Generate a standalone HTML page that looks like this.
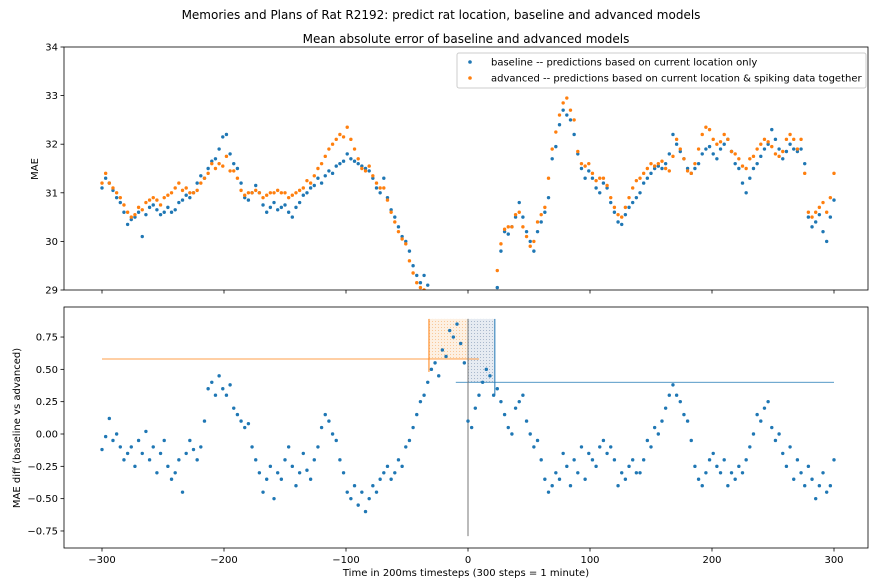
<!DOCTYPE html>
<html><head><meta charset="utf-8"><style>
body{margin:0;background:#fff;}
svg{display:block;font-family:"DejaVu Sans","Liberation Sans",sans-serif;}
</style></head><body>
<svg id="chart" width="887" height="584" viewBox="0 0 887 584" xmlns="http://www.w3.org/2000/svg">
<rect width="887" height="584" fill="#fff"/>
<text x="441" y="19" font-size="12" text-anchor="middle">Memories and Plans of Rat R2192: predict rat location, baseline and advanced models</text>
<text x="466" y="43" font-size="12" text-anchor="middle">Mean absolute error of baseline and advanced models</text>
<g id="topAxes"></g>
<g id="botAxes"></g>
<text transform="translate(38,169) rotate(-90)" font-size="10" text-anchor="middle">MAE</text>
<text transform="translate(20,428) rotate(-90)" font-size="10" text-anchor="middle">MAE diff (baseline vs advanced)</text>
<text x="466" y="576" font-size="10" text-anchor="middle">Time in 200ms timesteps (300 steps = 1 minute)</text>
<g>
<rect x="457" y="53" width="409" height="35" fill="#fff" stroke="#ccc" rx="2"/>
<circle cx="470" cy="62" r="1.8" fill="#1f77b4"/>
<text x="491" y="65.5" font-size="10">baseline -- predictions based on current location only</text>
<circle cx="470" cy="78" r="1.8" fill="#ff7f0e"/>
<text x="491" y="81.5" font-size="10">advanced -- predictions based on current location &amp; spiking data together</text>
</g>
</svg>
<script>
const baseline=[31.1,31.3,31.2,31.05,30.9,30.8,30.6,30.35,30.45,30.5,
30.6,30.1,30.55,30.7,30.75,30.65,30.55,30.6,30.7,30.6,
30.65,30.8,30.85,30.95,30.9,31.0,31.2,31.35,31.3,31.5,
31.65,31.7,31.9,32.15,32.2,31.8,31.6,31.5,31.2,30.9,
30.85,31.0,31.15,31.0,30.75,30.6,30.7,30.8,30.65,30.7,
30.75,30.6,30.5,30.7,30.8,30.95,31.0,31.1,31.15,31.3,
31.2,31.35,31.45,31.4,31.55,31.6,31.65,31.8,31.7,31.65,
31.6,31.55,31.5,31.45,31.3,31.1,31.0,31.3,30.9,30.65,
30.5,30.3,30.1,30.0,29.8,29.5,29.3,29.15,29.3,29.1,
null,null,null,null,null,null,null,null,null,null,
null,null,null,null,null,null,null,null,29.05,29.8,
30.2,30.15,30.3,30.5,30.8,30.5,30.2,30.0,29.8,30.2,
30.4,30.6,30.9,31.7,31.95,32.4,32.7,32.6,32.5,32.2,
31.8,31.5,31.3,31.45,31.3,31.1,31.0,31.2,31.1,30.8,
30.6,30.4,30.35,30.55,30.7,30.8,30.9,31.0,31.2,31.3,
31.4,31.5,31.55,31.5,31.6,31.8,32.2,32.0,31.85,31.7,
31.5,31.4,31.5,31.6,31.8,31.9,31.95,31.8,31.7,31.9,
32.0,32.1,31.85,31.6,31.5,31.2,31.0,31.3,31.5,31.6,
31.75,31.9,32.0,32.3,32.1,31.9,31.7,31.85,32.0,31.9,
31.85,31.9,31.6,30.5,30.3,30.4,30.55,30.2,30.0,30.5,
30.85];
const advanced=[31.2,31.4,31.2,31.1,31.0,30.9,30.75,30.6,30.5,30.55,
30.7,30.65,30.8,30.85,30.9,30.85,30.75,30.9,30.95,31.0,
31.1,31.2,31.05,31.1,31.0,31.0,31.05,31.2,31.3,31.4,
31.6,31.5,31.6,31.55,31.75,31.45,31.45,31.3,31.05,30.95,
31.0,31.0,31.05,31.0,30.9,30.95,31.0,31.0,31.05,31.0,
31.0,30.9,30.95,31.0,31.05,31.1,31.25,31.2,31.35,31.5,
31.6,31.75,31.9,32.0,32.1,32.2,32.15,32.35,32.1,31.9,
31.7,31.5,31.45,31.55,31.35,31.2,31.1,31.1,30.85,30.6,
30.4,30.2,30.05,29.95,29.6,29.35,29.15,29.05,29.0,null,
null,null,null,null,null,null,null,null,null,null,
null,null,null,null,null,null,null,null,29.4,29.95,
30.25,30.3,30.3,30.55,30.6,30.3,30.1,29.9,30.0,30.4,
30.55,30.7,31.3,31.9,32.25,32.6,32.85,32.95,32.7,32.5,
31.85,31.6,31.55,31.6,31.4,31.25,31.3,31.3,31.15,30.9,
30.7,30.55,30.5,30.7,30.9,31.1,31.25,31.3,31.4,31.5,
31.6,31.55,31.6,31.65,31.5,31.45,31.75,32.1,31.9,31.7,
31.45,31.4,31.6,31.9,32.2,32.35,32.3,32.1,32.0,32.05,
32.2,32.1,31.85,31.8,31.7,31.55,31.5,31.7,31.75,31.9,
32.0,32.1,32.05,31.95,31.8,31.75,31.85,32.1,32.2,32.1,
31.9,32.1,31.4,30.6,30.5,30.6,30.7,30.8,30.6,30.9,
31.4];
const diffValues=[-0.12,-0.02,0.12,-0.05,0.0,-0.1,-0.2,-0.15,-0.1,-0.25,
-0.05,-0.15,0.02,-0.2,-0.1,-0.3,-0.15,-0.05,-0.25,-0.35,
-0.3,-0.2,-0.45,-0.15,-0.05,-0.12,-0.2,-0.1,0.1,0.35,
0.4,0.3,0.45,0.35,0.3,0.38,0.2,0.15,0.1,0.05,
0.08,-0.1,-0.2,-0.3,-0.45,-0.35,-0.25,-0.5,-0.3,-0.35,
-0.2,-0.1,-0.25,-0.4,-0.3,-0.15,-0.28,-0.35,-0.2,-0.1,
0.05,0.15,0.1,0.0,-0.05,-0.2,-0.3,-0.45,-0.5,-0.4,
-0.55,-0.45,-0.6,-0.5,-0.4,-0.45,-0.35,-0.3,-0.25,-0.35,
-0.3,-0.2,-0.25,-0.1,-0.05,0.05,0.15,0.25,0.3,0.4,
0.5,0.55,0.45,0.65,0.6,0.8,0.75,0.85,0.7,0.55,
0.1,0.05,0.2,0.3,0.4,0.5,0.45,0.3,0.35,0.25,
0.15,0.05,0.0,0.2,0.25,0.3,0.1,0.0,-0.1,-0.05,
-0.2,-0.35,-0.45,-0.4,-0.3,-0.35,-0.15,-0.25,-0.4,-0.2,
-0.3,-0.1,-0.35,-0.15,-0.2,-0.25,-0.1,-0.05,-0.15,-0.1,
-0.2,-0.4,-0.3,-0.35,-0.25,-0.2,-0.3,-0.3,-0.2,-0.05,
-0.1,0.05,0.0,0.1,0.2,0.3,0.38,0.3,0.25,0.15,
0.1,-0.05,-0.25,-0.35,-0.4,-0.3,-0.2,-0.15,-0.25,-0.3,
-0.2,-0.4,-0.3,-0.35,-0.25,-0.3,-0.2,-0.1,0.0,0.15,
0.1,0.2,0.25,0.05,-0.05,0.0,-0.15,-0.25,-0.1,-0.35,
-0.2,-0.3,-0.4,-0.25,-0.35,-0.5,-0.4,-0.3,-0.45,-0.4,
-0.2];
const xTicks=[-300,-200,-100,0,100,200,300];
const xTickLabels=["\u2212300","\u2212200","\u2212100","0","100","200","300"];
const topYTicks=[29,30,31,32,33,34];
const botYTicks=[-0.75,-0.5,-0.25,0,0.25,0.5,0.75];
const botYTickLabels=["\u22120.75","\u22120.50","\u22120.25","0.00","0.25","0.50","0.75"];
const orangeLevel=0.58, orangeStart=-32, orangeEnd=9;
const blueLevel=0.40, blueStart=-10, blueEnd=300, blueMark=22;
const bandTop=0.89, zeroBottom=-0.79, orangeVBottom=0.48, blueVBottom=0.30;

const NS="http://www.w3.org/2000/svg";
const times=baseline.map((_,i)=>-300+3*i);
const L=64,R=868;
const xs=v=>102+(v+300)*(834-102)/600;
const ty=v=>290-(v-29)*(243/5);
const by=v=>434-v*129.3;
function mk(p,tag,at){const e=document.createElementNS(NS,tag);for(const k in at)e.setAttribute(k,at[k]);p.appendChild(e);return e;}
const topAx=document.getElementById('topAxes'),botAx=document.getElementById('botAxes');
const defs=mk(document.getElementById('chart'),'defs',{});
const c1=mk(defs,'clipPath',{id:'c1'});mk(c1,'rect',{x:L,y:47,width:R-L,height:243});
const c2=mk(defs,'clipPath',{id:'c2'});mk(c2,'rect',{x:L,y:307,width:R-L,height:241});
const pat1=mk(defs,'pattern',{id:'po',width:3,height:3,patternUnits:'userSpaceOnUse'});
mk(pat1,'rect',{width:3,height:3,fill:'#fdf0e2'});mk(pat1,'rect',{width:1,height:1,fill:'#f9c99a'});
const pat2=mk(defs,'pattern',{id:'pb',width:3,height:3,patternUnits:'userSpaceOnUse'});
mk(pat2,'rect',{width:3,height:3,fill:'#e6ebf2'});mk(pat2,'rect',{width:1,height:1,fill:'#a9b8cc'});

// top axes
const tg=mk(topAx,'g',{'clip-path':'url(#c1)'});
baseline.forEach((v,i)=>{if(v===null)return;const c=mk(tg,'circle',{cx:xs(times[i]),cy:ty(v),r:1.7,fill:'#1f77b4'});

});
advanced.forEach((v,i)=>{if(v===null)return;const c=mk(tg,'circle',{cx:xs(times[i]),cy:ty(v),r:1.7,fill:'#ff7f0e'});

});
mk(topAx,'rect',{x:L,y:47,width:R-L,height:243,fill:'none',stroke:'#000','stroke-width':0.8});
topYTicks.forEach(t=>{mk(topAx,'line',{x1:L-3.5,x2:L,y1:ty(t),y2:ty(t),stroke:'#000','stroke-width':0.8});
const tx=mk(topAx,'text',{x:L-6,y:ty(t)+3.5,'font-size':10,'text-anchor':'end'});tx.textContent=t;

});
xTicks.forEach(t=>mk(topAx,'line',{x1:xs(t),x2:xs(t),y1:290,y2:293.5,stroke:'#000','stroke-width':0.8}));

// bottom axes
const bg=mk(botAx,'g',{'clip-path':'url(#c2)'});
const ob=mk(bg,'rect',{x:xs(orangeStart),y:by(bandTop),width:xs(0)-xs(orangeStart),height:by(orangeLevel)-by(bandTop),fill:'url(#po)'});


const bb=mk(bg,'rect',{x:xs(0),y:by(bandTop),width:xs(blueMark)-xs(0),height:by(blueLevel)-by(bandTop),fill:'url(#pb)'});


const ol=mk(bg,'line',{x1:xs(-300),x2:xs(orangeEnd),y1:by(orangeLevel),y2:by(orangeLevel),stroke:'#ff7f0e','stroke-width':0.8});


mk(bg,'line',{x1:xs(orangeStart),x2:xs(orangeStart),y1:by(bandTop),y2:by(orangeVBottom),stroke:'#ff7f0e','stroke-width':1});
const bl=mk(bg,'line',{x1:xs(blueStart),x2:xs(blueEnd),y1:by(blueLevel),y2:by(blueLevel),stroke:'#1f77b4','stroke-width':0.8});


mk(bg,'line',{x1:xs(blueMark),x2:xs(blueMark),y1:by(bandTop),y2:by(blueVBottom),stroke:'#1f77b4','stroke-width':1});
const zl=mk(bg,'line',{x1:xs(0),x2:xs(0),y1:by(bandTop),y2:by(zeroBottom),stroke:'#777','stroke-width':1});


diffValues.forEach((v,i)=>{const c=mk(bg,'circle',{cx:xs(times[i]),cy:by(v),r:1.7,fill:'#1f77b4'});

});
mk(botAx,'rect',{x:L,y:307,width:R-L,height:241,fill:'none',stroke:'#000','stroke-width':0.8});
botYTicks.forEach((t,i)=>{mk(botAx,'line',{x1:L-3.5,x2:L,y1:by(t),y2:by(t),stroke:'#000','stroke-width':0.8});
const tx=mk(botAx,'text',{x:L-6,y:by(t)+3.5,'font-size':10,'text-anchor':'end'});tx.textContent=botYTickLabels[i];

});
xTicks.forEach((t,i)=>{mk(botAx,'line',{x1:xs(t),x2:xs(t),y1:548,y2:551.5,stroke:'#000','stroke-width':0.8});
const tx=mk(botAx,'text',{x:xs(t),y:563,'font-size':10,'text-anchor':'middle'});tx.textContent=xTickLabels[i];

});
</script>
</body></html>
